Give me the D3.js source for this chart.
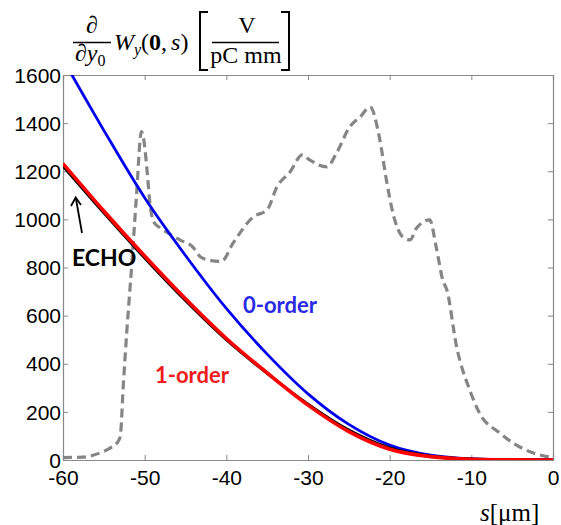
<!DOCTYPE html>
<html><head><meta charset="utf-8">
<script src="https://cdn.jsdelivr.net/npm/d3@7"></script>
<style>
html,body{margin:0;padding:0;background:#fff;}
svg{display:block;}
</style></head>
<body>
<svg id="chart" width="561" height="525"></svg>
<script>
// ---- data ----
const sGrid = [-60,-55,-50,-45,-40,-35,-30,-25,-20,-15,-10,-5,0];
const order0 = [1665,1370,1090,850,630,440,275,148,62,20,5,1,0];
const order1 = [1232,1035,848,670,505,362,228,118,45,14,3,0.5,0];
const echo   = [1222,1027,840,663,500,360,232,124,50,16,4,0.5,0];

const bunchS = [-60,-57.6,-55.5,-54.2,-53.4,-53,-52.6,-52.2,-51.6,-51.0,-50.4,-50.1,-49.7,-49.3,-48.8,-48.1,-45.7,-44.1,-43.2,-42,-40.6,-39.2,-36.7,-35,-33.8,-32.2,-30.7,-29.8,-27.7,-26.5,-24.9,-23.6,-22.4,-21.2,-20.4,-19.6,-18.4,-17.5,-16.7,-15.1,-14.3,-13.5,-13,-11.8,-10.2,-9,-6.5,-4.9,-2.4,0];
const bunchV = [10,12,29,50,70,96,320,528,802,1100,1365,1330,1200,1050,985,965,915,885,845,830,825,900,1010,1040,1135,1197,1268,1247,1218,1276,1384,1426,1467,1330,1164,1026,927,915,964,998,885,748,707,470,291,195,112,71,29,10];

const xTicks = [-60,-50,-40,-30,-20,-10,0];
const yTicks = [0,200,400,600,800,1000,1200,1400,1600];

// ---- layout ----
const svg = d3.select("#chart");
const L = 63, R = 553, T = 75, B = 460;
const x = d3.scaleLinear().domain([-60,0]).range([L,R]);
const y = d3.scaleLinear().domain([0,1600]).range([B,T]);

svg.append("defs").append("clipPath").attr("id","clip")
  .append("rect").attr("x",L).attr("y",T).attr("width",R-L).attr("height",B-T);

const fmt = d => String(d);
// axes (ticks inward on all sides)
const tickFont = "'Liberation Sans', Arial, sans-serif";
const axB = svg.append("g").attr("transform",`translate(0,${B})`)
  .call(d3.axisBottom(x).tickValues(xTicks).tickSize(-5).tickPadding(10).tickFormat(fmt));
const axT = svg.append("g").attr("transform",`translate(0,${T})`)
  .call(d3.axisTop(x).tickValues(xTicks).tickSize(-5).tickFormat(""));
const axL = svg.append("g").attr("transform",`translate(${L},0)`)
  .call(d3.axisLeft(y).tickValues(yTicks).tickSize(-5).tickPadding(2).tickFormat(fmt));
const axR = svg.append("g").attr("transform",`translate(${R},0)`)
  .call(d3.axisRight(y).tickValues(yTicks).tickSize(-5).tickFormat(""));
[axB,axT,axL,axR].forEach(g=>{
  g.selectAll("path.domain").attr("stroke","#888").attr("stroke-width",1.2);
  g.selectAll(".tick line").attr("stroke","#888");
  g.selectAll("text").attr("font-family",tickFont).attr("font-size",21).attr("fill","#000");
});
axB.selectAll(".tick text").attr("dy","0.71em");
axL.selectAll(".tick text").attr("dy","0.34em");

const plot = svg.append("g").attr("clip-path","url(#clip)");
const line = d3.line().x(d=>x(d[0])).y(d=>y(d[1])).curve(d3.curveMonotoneX);
const smooth = d3.line().x(d=>x(d[0])).y(d=>y(d[1])).curve(d3.curveNatural);

// bunch profile (dashed)
plot.append("path").datum(d3.zip(bunchS,bunchV)).attr("d",line)
  .attr("fill","none").attr("stroke","#858585").attr("stroke-width",3.2)
  .attr("stroke-dasharray","9,5");
// 0-order
plot.append("path").datum(d3.zip(sGrid,order0)).attr("d",line)
  .attr("fill","none").attr("stroke","#0000ee").attr("stroke-width",2.8);
// ECHO
plot.append("path").datum(d3.zip(sGrid,echo)).attr("d",line)
  .attr("fill","none").attr("stroke","#000").attr("stroke-width",3);
// 1-order
plot.append("path").datum(d3.zip(sGrid,order1)).attr("d",line)
  .attr("fill","none").attr("stroke","#f00").attr("stroke-width",3.6);

// annotations
const annFont = "Lato, 'Open Sans', sans-serif";
svg.append("text").attr("x",72).attr("y",266).text("ECHO")
  .attr("font-family",annFont).attr("font-weight","bold").attr("font-size",23).attr("fill","#000");
svg.append("text").attr("x",243).attr("y",313).text("0-order")
  .attr("font-family",annFont).attr("font-weight","bold").attr("font-size",22).attr("fill","#2a2ae6");
svg.append("text").attr("x",155).attr("y",383).text("1-order")
  .attr("font-family",annFont).attr("font-weight","bold").attr("font-size",22).attr("fill","#ee1c1c");
// arrow
svg.append("line").attr("x1",82).attr("y1",233).attr("x2",76).attr("y2",199)
  .attr("stroke","#000").attr("stroke-width",1.8);
svg.append("path").attr("d","M71,206 L75.7,197.5 L81,205")
  .attr("fill","none").attr("stroke","#000").attr("stroke-width",1.8);

// title formula
const serif = "'Liberation Serif', 'DejaVu Serif', serif";
const tg = svg.append("g").attr("font-family",serif).attr("fill","#000");
tg.append("text").attr("x",92).attr("y",33).attr("text-anchor","middle")
  .attr("font-size",24).attr("font-style","italic").text("∂");
tg.append("line").attr("x1",73).attr("x2",111).attr("y1",42.5).attr("y2",42.5)
  .attr("stroke","#000").attr("stroke-width",1.3);
const den = tg.append("text").attr("x",75).attr("y",61).attr("font-size",24).attr("font-style","italic");
den.append("tspan").text("∂y");
den.append("tspan").attr("font-size",16).attr("font-style","normal").attr("dy",5).text("0");
const wt = tg.append("text").attr("x",114).attr("y",50).attr("font-size",24);
wt.append("tspan").attr("font-style","italic").text("W");
wt.append("tspan").attr("font-style","italic").attr("font-size",16).attr("dy",5).text("y");
wt.append("tspan").attr("dy",-5).text("(");
wt.append("tspan").attr("font-weight","bold").text("0");
wt.append("tspan").text(",");
wt.append("tspan").attr("font-style","italic").attr("dx",4).text("s");
wt.append("tspan").text(")");
tg.append("path").attr("d","M208,12 H200 V70 H208").attr("fill","none").attr("stroke","#000").attr("stroke-width",2);
tg.append("path").attr("d","M281,12 H289 V70 H281").attr("fill","none").attr("stroke","#000").attr("stroke-width",2);
tg.append("text").attr("x",247).attr("y",33).attr("text-anchor","middle").attr("font-size",24).text("V");
tg.append("line").attr("x1",212).attr("x2",279).attr("y1",42.5).attr("y2",42.5)
  .attr("stroke","#000").attr("stroke-width",1.3);
tg.append("text").attr("x",246).attr("y",63).attr("text-anchor","middle").attr("font-size",24).text("pC mm");

// x label
const xl = svg.append("text").attr("x",480).attr("y",521).attr("font-family",serif).attr("font-size",25);
xl.append("tspan").attr("font-style","italic").text("s");
xl.append("tspan").text("[μm]");
</script>
</body></html>
